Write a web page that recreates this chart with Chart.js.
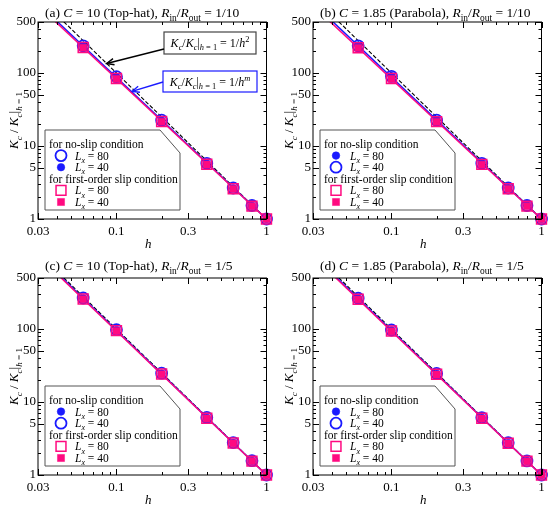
<!DOCTYPE html>
<html>
<head>
<meta charset="utf-8">
<script src="https://cdn.jsdelivr.net/npm/chart.js@4.4.0/dist/chart.umd.min.js"></script>
<style>
  body { margin: 0; background: #fff; }
  #wrap { position: relative; width: 550px; height: 507px; }
  canvas { position: absolute; }
</style>
</head>
<body>
<div id="wrap">
  <canvas id="panelA" width="275" height="253" style="left:0;top:0"></canvas>
  <canvas id="panelB" width="275" height="253" style="left:275px;top:0"></canvas>
  <canvas id="panelC" width="275" height="254" style="left:0;top:253px"></canvas>
  <canvas id="panelD" width="275" height="254" style="left:275px;top:253px"></canvas>
</div>
<script>
// --- data ---
const hValues = [0.06, 0.1, 0.2, 0.4, 0.6, 0.8, 1];

const aNoSlip80 = [236, 89, 22.6, 5.8, 2.66, 1.53, 1];
const aNoSlip40 = [234, 88, 22.4, 5.75, 2.64, 1.52, 1];
const aSlip80 = [224, 84, 21.7, 5.62, 2.6, 1.5, 1];
const aSlip40 = [222, 83, 21.5, 5.58, 2.58, 1.5, 1];

const bNoSlip80 = [238, 91, 22.8, 5.85, 2.68, 1.54, 1];
const bNoSlip40 = [236, 90, 22.6, 5.8, 2.66, 1.53, 1];
const bSlip80 = [222, 84, 21.6, 5.6, 2.6, 1.5, 1];
const bSlip40 = [220, 83, 21.4, 5.55, 2.58, 1.5, 1];

const cNoSlip80 = [264, 97, 24.6, 6.1, 2.76, 1.56, 1];
const cNoSlip40 = [266, 98, 24.8, 6.15, 2.78, 1.57, 1];
const cSlip80 = [258, 95, 24.2, 6.0, 2.74, 1.55, 1];
const cSlip40 = [256, 94, 24.0, 5.95, 2.72, 1.55, 1];

const dNoSlip80 = [262, 96, 24.4, 6.08, 2.75, 1.56, 1];
const dNoSlip40 = [264, 97, 24.6, 6.12, 2.77, 1.56, 1];
const dSlip80 = [256, 94, 24.0, 5.98, 2.72, 1.55, 1];
const dSlip40 = [254, 93, 23.8, 5.94, 2.7, 1.54, 1];

// fit lines, given at the two ends of the h range
const fitH = [0.03, 1];
const squareLaw = [1111, 1];
const aFitNoSlip = [900, 1];
const aFitSlip = [845, 1];
const bFitNoSlip = [910, 1];
const bFitSlip = [835, 1];
const cFitNoSlip = [1045, 1];
const cFitSlip = [1010, 1];
const dFitNoSlip = [1040, 1];
const dFitSlip = [1000, 1];

// axes
const xTickLabels = [0.03, 0.1, 0.3, 1];
const xMinorTicks = [0.04, 0.05, 0.06, 0.07, 0.08, 0.09, 0.2, 0.4, 0.5, 0.6, 0.7, 0.8, 0.9];
const yTickLabels = [1, 5, 10, 50, 100, 500];
const yMinorTicks = [2, 3, 4, 6, 7, 8, 9, 20, 30, 40, 60, 70, 80, 90, 200, 300, 400];

const BLUE = '#1a1aff';
const PINK = '#ff0a80';
const SERIF = '"Liberation Serif", "Times New Roman", serif';

const marks = {
  circleOpen: { pointStyle: 'circle', radius: 5.5, borderWidth: 1.8, borderColor: BLUE, fill: 'rgba(0,0,0,0)' },
  circleFill: { pointStyle: 'circle', radius: 3.8, borderWidth: 0.5, borderColor: BLUE, fill: BLUE },
  rectOpen: { pointStyle: 'rect', radius: 7, borderWidth: 1.5, borderColor: PINK, fill: 'rgba(0,0,0,0)' },
  rectFill: { pointStyle: 'rect', radius: 5, borderWidth: 0.5, borderColor: PINK, fill: PINK }
};

// --- rich text helpers (italic / sub / sup) ---
function segFont(style, size) {
  const small = style.includes('b') || style.includes('p');
  const sz = small ? size * 0.7 : size;
  return (style.includes('i') ? 'italic ' : '') + sz + 'px ' + SERIF;
}
function richWidth(ctx, segs, size) {
  let w = 0;
  segs.forEach(([t, s]) => { ctx.font = segFont(s, size); w += ctx.measureText(t).width; });
  return w;
}
function drawRich(ctx, segs, x, y, size, align) {
  let cx = align === 'center' ? x - richWidth(ctx, segs, size) / 2 : x;
  ctx.textAlign = 'left';
  ctx.textBaseline = 'alphabetic';
  segs.forEach(([t, s]) => {
    ctx.font = segFont(s, size);
    const dy = s.includes('b') ? size * 0.28 : s.includes('p') ? -size * 0.4 : 0;
    ctx.fillText(t, cx, y + dy);
    cx += ctx.measureText(t).width;
  });
}

function drawMark(ctx, name, x, y) {
  const m = marks[name];
  ctx.fillStyle = m.fill;
  ctx.strokeStyle = m.borderColor;
  ctx.lineWidth = m.borderWidth;
  ctx.beginPath();
  if (m.pointStyle === 'circle') {
    ctx.arc(x, y, m.radius, 0, Math.PI * 2);
  } else {
    const s = m.radius * Math.SQRT1_2;
    ctx.rect(x - s, y - s, 2 * s, 2 * s);
  }
  ctx.fill();
  ctx.stroke();
}

function arrow(ctx, x1, y1, x2, y2, color) {
  ctx.strokeStyle = color;
  ctx.lineWidth = 1.4;
  ctx.beginPath(); ctx.moveTo(x1, y1); ctx.lineTo(x2, y2); ctx.stroke();
  const a = Math.atan2(y2 - y1, x2 - x1), L = 8;
  ctx.beginPath();
  ctx.moveTo(x2 - L * Math.cos(a - 0.4), y2 - L * Math.sin(a - 0.4));
  ctx.lineTo(x2, y2);
  ctx.lineTo(x2 - L * Math.cos(a + 0.4), y2 - L * Math.sin(a + 0.4));
  ctx.stroke();
}

const kRatio = [['K', 'i'], ['c', 'ib'], ['/', ''], ['K', 'i'], ['c', 'ib'], ['|', ''], ['h', 'ib'], [' = 1', 'b']];
const yTitle = [['K', 'i'], ['c', 'ib'], [' / ', ''], ['K', 'i'], ['c', 'ib'], ['|', ''], ['h', 'ib'], [' = 1', 'b']];

// --- frame, ticks, titles, legend ---
const decor = {
  id: 'decor',
  afterDraw(chart, args, opts) {
    const ctx = chart.ctx;
    const area = chart.chartArea;
    const xs = chart.scales.x, ys = chart.scales.y;
    ctx.save();

    // frame
    ctx.strokeStyle = '#000';
    ctx.lineWidth = 1;
    ctx.strokeRect(area.left, area.top, area.right - area.left, area.bottom - area.top);

    // inward ticks on all four sides
    const tickX = (v, len) => {
      const px = Math.round(xs.getPixelForValue(v)) + 0.5;
      ctx.beginPath();
      ctx.moveTo(px, area.bottom); ctx.lineTo(px, area.bottom - len);
      ctx.moveTo(px, area.top); ctx.lineTo(px, area.top + len);
      ctx.stroke();
    };
    const tickY = (v, len) => {
      const py = Math.round(ys.getPixelForValue(v)) + 0.5;
      ctx.beginPath();
      ctx.moveTo(area.left, py); ctx.lineTo(area.left + len, py);
      ctx.moveTo(area.right, py); ctx.lineTo(area.right - len, py);
      ctx.stroke();
    };
    xTickLabels.forEach(v => tickX(v, 6));
    xMinorTicks.forEach(v => tickX(v, 3));
    yTickLabels.forEach(v => tickY(v, 6));
    yMinorTicks.forEach(v => tickY(v, 3));

    // panel title
    ctx.fillStyle = '#000';
    drawRich(ctx, opts.title, area.left + 7, 17, 13.5, 'left');

    // axis titles
    drawRich(ctx, [['h', 'i']], (area.left + area.right) / 2 - 4, area.bottom + 29, 13, 'center');
    ctx.save();
    ctx.translate(18, (area.top + area.bottom) / 2);
    ctx.rotate(-Math.PI / 2);
    drawRich(ctx, yTitle, 0, 0, 13, 'center');
    ctx.restore();

    // legend box with a cut corner
    const L = area.left + 7, B = area.bottom - 9, W = 135, H = 80, T = B - H;
    ctx.beginPath();
    ctx.moveTo(L, T); ctx.lineTo(L + W - 20, T); ctx.lineTo(L + W, T + 23);
    ctx.lineTo(L + W, B); ctx.lineTo(L, B); ctx.closePath();
    ctx.fillStyle = '#fff'; ctx.fill();
    ctx.strokeStyle = '#555'; ctx.lineWidth = 1; ctx.stroke();
    opts.legend.forEach((it, i) => {
      const y = T + 14 + i * 11.6;
      ctx.fillStyle = '#000';
      if (it.head) {
        drawRich(ctx, [[it.head, '']], L + 4, y + 4, 11.5, 'left');
      } else {
        drawMark(ctx, it.mark, L + 16, y);
        ctx.fillStyle = '#000';
        drawRich(ctx, [['L', 'i'], ['x', 'ib'], [' = ' + it.label, '']], L + 30, y + 4, 11.5, 'left');
      }
    });

    // annotations (panel a only)
    if (opts.notes) {
      const bx = area.left + 126;
      // 1/h^2 box
      ctx.fillStyle = '#fff';
      ctx.fillRect(bx, area.top + 10, 92, 22);
      ctx.strokeStyle = '#444'; ctx.lineWidth = 1.2;
      ctx.strokeRect(bx, area.top + 10, 92, 22);
      ctx.fillStyle = '#000';
      drawRich(ctx, kRatio.concat([[' = 1/', ''], ['h', 'i'], ['2', 'p']]), bx + 46, area.top + 25, 12, 'center');
      arrow(ctx, bx, area.top + 27, xs.getPixelForValue(0.086), ys.getPixelForValue(135), '#000');
      // 1/h^m box
      ctx.fillStyle = '#fff';
      ctx.fillRect(bx - 1, area.top + 49, 94, 21);
      ctx.strokeStyle = BLUE; ctx.lineWidth = 1.2;
      ctx.strokeRect(bx - 1, area.top + 49, 94, 21);
      ctx.fillStyle = '#000';
      drawRich(ctx, kRatio.concat([[' = 1/', ''], ['h', 'i'], ['m', 'ip']]), bx + 46, area.top + 64, 12, 'center');
      arrow(ctx, bx - 1, area.top + 60, xs.getPixelForValue(0.127), ys.getPixelForValue(56), BLUE);
    }
    ctx.restore();
  }
};

function pointSet(values, markName, order) {
  const m = marks[markName];
  return {
    data: hValues.map((h, i) => ({ x: h, y: values[i] })),
    showLine: false,
    pointStyle: m.pointStyle,
    pointRadius: m.radius,
    pointHoverRadius: m.radius,
    pointBorderWidth: m.borderWidth,
    pointBorderColor: m.borderColor,
    pointBackgroundColor: m.fill,
    clip: false,
    order: order
  };
}
function lineSet(values, color, dash, order) {
  return {
    data: fitH.map((h, i) => ({ x: h, y: values[i] })),
    borderColor: color,
    borderWidth: dash ? 1.1 : 1.5,
    borderDash: dash || [],
    pointRadius: 0,
    order: order
  };
}

function makePanel(canvasId, p) {
  const canvas = document.getElementById(canvasId);
  const H = canvas.height;
  new Chart(canvas.getContext('2d'), {
    type: 'line',
    data: {
      datasets: [
        pointSet(p.slip40, 'rectFill', 1),
        pointSet(p.slip80, 'rectOpen', 2),
        pointSet(p.noSlip80, p.mark80, 3),
        pointSet(p.noSlip40, p.mark40, 4),
        lineSet(p.fitSlip, PINK, null, 5),
        lineSet(p.fitNoSlip, BLUE, null, 6),
        lineSet(squareLaw, '#000', [4, 2], 7)
      ]
    },
    options: {
      responsive: false,
      animation: false,
      layout: { padding: { left: 0, right: 8, top: p.top, bottom: 0 } },
      plugins: {
        legend: { display: false },
        tooltip: { enabled: false },
        decor: { title: p.title, legend: p.legend, notes: p.notes }
      },
      scales: {
        x: {
          type: 'logarithmic', min: 0.03, max: 1,
          grid: { display: false, drawTicks: false },
          border: { display: false },
          afterBuildTicks: s => { s.ticks = xTickLabels.map(v => ({ value: v })); },
          afterFit: s => { s.height = H - p.bottom; },
          ticks: {
            autoSkip: false, maxRotation: 0, padding: 5, color: '#000',
            font: { family: SERIF, size: 13 },
            callback: v => String(v)
          }
        },
        y: {
          type: 'logarithmic', min: 1, max: 500,
          grid: { display: false, drawTicks: false },
          border: { display: false },
          afterBuildTicks: s => { s.ticks = yTickLabels.map(v => ({ value: v })); },
          afterFit: s => { s.width = 38; },
          ticks: {
            autoSkip: false, padding: 2, color: '#000',
            font: { family: SERIF, size: 13 },
            callback: v => String(v)
          }
        }
      }
    },
    plugins: [decor]
  });
}

function legendItems(first80, first40) {
  return [
    { head: 'for no-slip condition' },
    { mark: first80, label: '80' },
    { mark: first40, label: '40' },
    { head: 'for first-order slip condition' },
    { mark: 'rectOpen', label: '80' },
    { mark: 'rectFill', label: '40' }
  ];
}

makePanel('panelA', {
  top: 22, bottom: 219, notes: true,
  title: [['(a) ', ''], ['C', 'i'], [' = 10 (Top-hat), ', ''], ['R', 'i'], ['in', 'b'], ['/', ''], ['R', 'i'], ['out', 'b'], [' = 1/10', '']],
  noSlip80: aNoSlip80, noSlip40: aNoSlip40, slip80: aSlip80, slip40: aSlip40,
  fitNoSlip: aFitNoSlip, fitSlip: aFitSlip,
  mark80: 'circleOpen', mark40: 'circleFill',
  legend: legendItems('circleOpen', 'circleFill')
});
makePanel('panelB', {
  top: 22, bottom: 219,
  title: [['(b) ', ''], ['C', 'i'], [' = 1.85 (Parabola), ', ''], ['R', 'i'], ['in', 'b'], ['/', ''], ['R', 'i'], ['out', 'b'], [' = 1/10', '']],
  noSlip80: bNoSlip80, noSlip40: bNoSlip40, slip80: bSlip80, slip40: bSlip40,
  fitNoSlip: bFitNoSlip, fitSlip: bFitSlip,
  mark80: 'circleFill', mark40: 'circleOpen',
  legend: legendItems('circleFill', 'circleOpen')
});
makePanel('panelC', {
  top: 25, bottom: 222,
  title: [['(c) ', ''], ['C', 'i'], [' = 10 (Top-hat), ', ''], ['R', 'i'], ['in', 'b'], ['/', ''], ['R', 'i'], ['out', 'b'], [' = 1/5', '']],
  noSlip80: cNoSlip80, noSlip40: cNoSlip40, slip80: cSlip80, slip40: cSlip40,
  fitNoSlip: cFitNoSlip, fitSlip: cFitSlip,
  mark80: 'circleFill', mark40: 'circleOpen',
  legend: legendItems('circleFill', 'circleOpen')
});
makePanel('panelD', {
  top: 25, bottom: 222,
  title: [['(d) ', ''], ['C', 'i'], [' = 1.85 (Parabola), ', ''], ['R', 'i'], ['in', 'b'], ['/', ''], ['R', 'i'], ['out', 'b'], [' = 1/5', '']],
  noSlip80: dNoSlip80, noSlip40: dNoSlip40, slip80: dSlip80, slip40: dSlip40,
  fitNoSlip: dFitNoSlip, fitSlip: dFitSlip,
  mark80: 'circleFill', mark40: 'circleOpen',
  legend: legendItems('circleFill', 'circleOpen')
});
</script>
</body>
</html>
